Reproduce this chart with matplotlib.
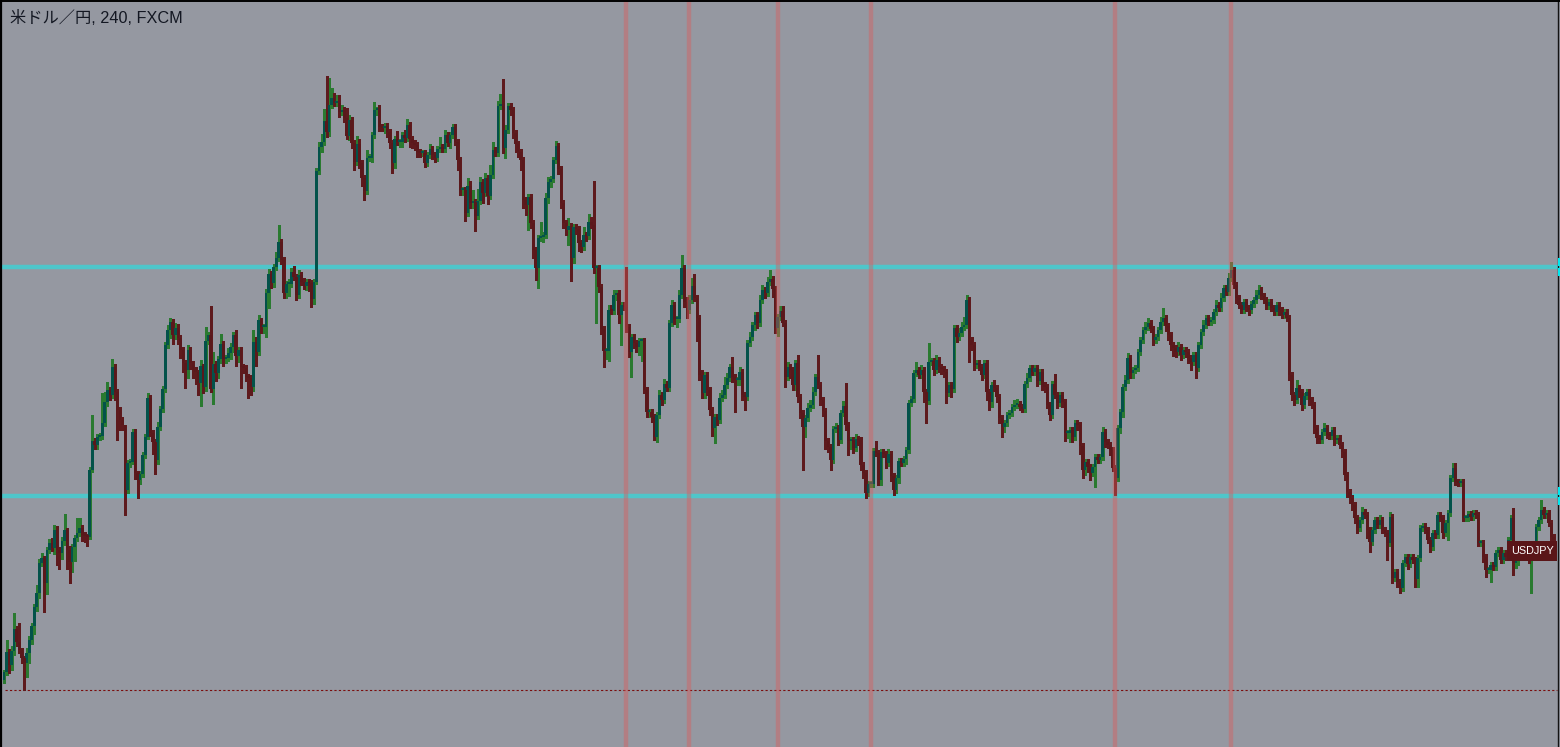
import matplotlib
matplotlib.use("Agg")
import matplotlib.pyplot as plt
from matplotlib.patches import Rectangle
from matplotlib.lines import Line2D
from matplotlib.transforms import blended_transform_factory
import numpy as np

# ---------------- data ----------------
title = "米ドル／円, 240, FXCM"
symbol = "USDJPY"
first_open = 111.20

closes = [
    111.28, 111.48, 111.35, 111.49, 111.71, 111.58, 111.50, 111.42, 111.37, 111.47,
    111.60, 111.74, 111.93, 112.07, 112.37, 112.42, 112.17, 112.50, 112.57, 112.52,
    112.70, 112.50, 112.47, 112.59, 112.70, 112.50, 112.38, 112.53, 112.62, 112.67,
    112.72, 112.65, 112.64, 112.63, 113.30, 113.59, 113.55, 113.63, 113.64, 113.77,
    113.98, 114.10, 114.05, 114.33, 114.08, 113.90, 113.80, 113.75, 113.10, 113.37,
    113.38, 113.68, 113.27, 113.20, 113.26, 113.45, 113.63, 114.02, 113.67, 113.58,
    113.40, 113.73, 113.91, 114.11, 114.55, 114.70, 114.78, 114.65, 114.72, 114.62,
    114.50, 114.37, 114.30, 114.50, 114.37,
    114.30, 114.28, 114.17, 114.34, 114.13, 114.59, 114.65, 114.11, 114.36, 114.27,
    114.41, 114.56, 114.41, 114.42, 114.47, 114.53, 114.65, 114.44, 114.50, 114.33,
    114.32, 114.23, 114.22, 114.13, 114.58, 114.48, 114.80, 114.73, 114.73, 115.07,
    115.26, 115.17, 115.33, 115.42, 115.58, 115.40, 115.07, 115.16, 115.16, 115.28,
    115.23, 115.05, 115.25, 115.18, 115.14, 115.18, 115.17, 115.01, 115.18, 116.29,
    116.53, 116.58, 116.79, 116.68, 116.95, 117.02, 116.97, 116.97, 116.88, 116.90,
    116.82, 116.64, 116.80, 116.57, 116.38, 116.56, 116.37, 116.22, 116.09, 116.42,
    116.42, 116.65, 116.90, 116.90, 116.73, 116.72, 116.74, 116.68,
    116.57, 116.37, 116.61, 116.58, 116.58, 116.65, 116.62, 116.75, 116.61, 116.57,
    116.55, 116.48, 116.47, 116.47, 116.37, 116.45, 116.51, 116.45, 116.42, 116.51,
    116.53, 116.51, 116.65, 116.57, 116.65, 116.73, 116.58, 116.40, 116.10, 116.10,
    115.87, 116.14, 115.97, 115.98, 115.84, 115.99, 116.18, 116.07, 116.22, 116.04,
    116.25, 116.50, 116.47, 116.94, 116.94, 116.52, 116.70, 116.94, 116.90, 116.67,
    116.56, 116.48, 116.40, 116.00, 115.95, 116.03, 115.77, 115.50, 115.32, 115.62,
    115.63, 115.65, 116.02, 116.18, 116.21, 116.40, 116.54, 116.31, 115.97, 115.77,
    115.70, 115.74, 115.42, 115.73, 115.71, 115.57,
    115.53, 115.65, 115.64, 115.78, 115.75, 115.32, 115.32, 115.13, 114.71, 114.49,
    114.49, 114.90, 114.89, 115.05, 115.07, 114.85, 114.95, 114.93, 114.73, 114.48,
    114.63, 114.57, 114.53, 114.59, 114.59, 114.10, 113.88, 113.88, 113.83, 113.63,
    113.85, 114.05, 114.00, 114.16, 114.12, 114.77, 114.95, 114.81, 114.81, 115.05,
    115.32, 114.98, 114.90, 115.00, 115.14, 115.02, 114.82, 114.25, 114.07, 114.25,
    114.10, 113.90, 113.72, 113.83, 113.80, 114.02, 114.05, 114.15, 114.22, 114.33,
    114.23, 114.20, 114.20, 114.28, 114.05, 114.03, 114.57, 114.63, 114.75, 114.85,
    114.77, 115.00, 115.10,
    115.07, 115.18, 115.21, 115.11, 114.72, 114.83, 114.89, 114.77, 114.23, 114.33,
    114.30, 114.15, 114.37, 114.03, 113.87, 113.73, 113.82, 113.92, 113.95, 114.08,
    114.23, 114.15, 114.00, 113.89, 113.59, 113.53, 113.40, 113.71, 113.72, 113.60,
    113.87, 113.94, 113.75, 113.59, 113.60, 113.52, 113.61, 113.60, 113.35, 113.27,
    113.07, 113.16, 113.16, 113.49, 113.47, 113.20, 113.48, 113.46, 113.37, 113.46,
    113.24, 113.10, 113.22, 113.39, 113.37, 113.41, 113.50, 113.97, 114.01, 114.27,
    114.30, 114.25, 114.30, 114.08, 113.99, 114.38, 114.39, 114.30, 114.40, 114.33,
    114.31, 114.28, 114.07, 114.15, 114.11, 114.72,
    114.63, 114.67, 114.73, 114.75, 115.00, 114.60, 114.55, 114.35, 114.37, 114.33,
    114.25, 114.37, 114.08, 113.98, 114.15, 114.12, 114.03, 113.82, 113.73, 113.77,
    113.85, 113.87, 113.93, 113.95, 113.96, 113.93, 113.91, 114.16, 114.22, 114.32,
    114.28, 114.32, 114.19, 114.28, 114.15, 114.13, 113.95, 113.85, 114.16, 114.05,
    113.97, 114.05, 113.98, 113.67, 113.67, 113.70, 113.63, 113.77, 113.75, 113.54,
    113.30, 113.38, 113.33, 113.27, 113.33, 113.43, 113.40, 113.43, 113.68, 113.58,
    113.55, 113.50, 113.32, 113.22, 113.72, 113.88, 114.13, 114.20, 114.42, 114.27,
    114.30, 114.32, 114.48, 114.60, 114.70, 114.73, 114.77, 114.71, 114.60, 114.63,
    114.70, 114.78, 114.82, 114.74, 114.65, 114.55, 114.52, 114.48, 114.53, 114.45,
    114.50, 114.48, 114.42, 114.38, 114.45, 114.32, 114.55, 114.68, 114.75, 114.82,
    114.78, 114.80, 114.88, 114.95, 114.92, 115.02, 115.12, 115.08, 115.22, 115.30,
    115.15, 115.02, 114.95, 114.90, 114.98, 114.92, 114.90, 114.96, 115.00, 115.05,
    115.10, 115.04, 115.00, 114.94, 114.98, 114.92, 114.88, 114.95, 114.90, 114.85,
    114.88, 114.82, 114.25, 114.05, 114.00, 114.12, 114.08, 113.95, 114.04, 114.08,
    114.00, 113.95, 113.72, 113.62, 113.60, 113.68, 113.72, 113.65, 113.64, 113.70,
    113.60, 113.62, 113.55, 113.48, 113.25, 113.08, 113.02, 112.95, 112.82, 112.72,
    112.80, 112.88, 112.85, 112.70, 112.58, 112.70, 112.80, 112.75, 112.80, 112.70,
    112.67, 112.57, 112.83, 112.22, 112.28, 112.18, 112.12, 112.37, 112.43, 112.36,
    112.43, 112.40, 112.21, 112.42, 112.72, 112.74, 112.70, 112.60, 112.53, 112.67,
    112.65, 112.85, 112.82, 112.67, 112.77, 112.87, 113.22, 113.32, 113.18, 113.17,
    113.18, 112.82, 112.82, 112.86, 112.83, 112.87, 112.85, 112.57, 112.57, 112.43,
    112.30, 112.30, 112.35, 112.33, 112.47, 112.50, 112.40, 112.47, 112.43, 112.60,
    112.82, 112.37, 112.40, 112.47, 112.45, 112.52, 112.48, 112.40, 112.44, 112.55,
    112.73, 112.80, 112.90, 112.85, 112.87, 112.77, 112.63, 112.60,
]

# wick lengths beyond the candle body, in pips
upper_wick_pips = [
    2, 12, 3, 5, 16, 3, 19, 2, 2, 5, 4, 3, 3, 8, 4, 5, 2, 3, 4, 5,
    5, 4, 3, 4, 16, 2, 4, 3, 3, 15, 10, 3, 3, 2, 3, 26, 3, 3, 3, 30,
    10, 8, 3, 8, 3, 3, 3, 3, 0, 3, 3, 3, 3, 2, 3, 3, 3, 5, 3, 3,
    3, 5, 3, 3, 3, 5, 4, 3, 5, 4, 3, 3, 3, 5, 3,
    2, 3, 2, 6, 2, 14, 3, 29, 12, 3, 3, 10, 3, 3, 5, 4, 3, 5, 3, 3,
    3, 3, 3, 3, 12, 5, 5, 2, 3, 4, 5, 3, 3, 6, 17, 3, 3, 3, 5, 4,
    6, 3, 5, 3, 4, 3, 3, 3, 3, 3, 5, 8, 12, 45, 27, 10, 5, 8, 8, 5,
    3, 10, 5, 3, 3, 8, 5, 3, 3, 8, 4, 3, 8, 3, 5, 3, 3, 3,
    3, 3, 3, 8, 3, 3, 5, 6, 3, 3, 3, 3, 3, 3, 3, 3, 5, 3, 3, 3,
    10, 3, 5, 3, 3, 3, 3, 3, 3, 3, 3, 8, 5, 12, 3, 12, 5, 3, 5, 3,
    10, 8, 3, 5, 12, 27, 5, 3, 3, 3, 3, 3, 3, 3, 3, 3, 3, 3, 3, 3,
    15, 3, 5, 5, 3, 3, 5, 3, 3, 3, 3, 8, 3, 3, 3, 3,
    3, 8, 3, 8, 5, 44, 3, 3, 3, 3, 3, 5, 5, 5, 3, 3, 3, 3, 40, 3,
    3, 3, 3, 3, 3, 3, 3, 3, 3, 3, 3, 5, 3, 5, 3, 3, 5, 3, 3, 5,
    13, 3, 5, 5, 8, 12, 3, 3, 5, 3, 3, 3, 3, 3, 3, 5, 5, 8, 5, 3,
    10, 3, 3, 5, 3, 3, 3, 5, 3, 3, 3, 5, 5,
    3, 5, 9, 3, 3, 3, 5, 5, 3, 5, 3, 3, 3, 8, 3, 3, 3, 5, 5, 5,
    3, 22, 3, 3, 3, 3, 3, 3, 5, 3, 3, 5, 23, 3, 3, 3, 5, 3, 3, 3,
    3, 3, 3, 3, 10, 3, 3, 3, 3, 5, 3, 3, 3, 3, 3, 3, 3, 3, 3, 3,
    8, 3, 5, 3, 3, 19, 3, 3, 5, 3, 3, 3, 3, 3, 3, 3,
    3, 5, 5, 8, 5, 3, 3, 3, 3, 3, 3, 3, 3, 3, 3, 5, 3, 3, 3, 3,
    3, 3, 3, 5, 5, 3, 3, 3, 5, 3, 3, 3, 3, 3, 3, 3, 3, 3, 3, 10,
    3, 3, 3, 3, 3, 3, 3, 3, 3, 3, 3, 3, 3, 3, 3, 3, 3, 3, 5, 3,
    3, 3, 3, 3, 3, 3, 3, 5, 5, 3, 3, 3, 3, 3, 3, 5, 5, 3, 3, 3,
    3, 5, 10, 3, 3, 3, 3, 3, 5, 3, 3, 3, 3, 3, 3, 3, 3, 3, 5, 3,
    3, 3, 3, 5, 3, 5, 3, 3, 5, 8, 3, 3, 3, 3, 3, 3, 3, 3, 3, 5,
    5, 3, 3, 3, 3, 3, 3, 3, 3, 3, 3, 3, 3, 3, 3, 8, 3, 3, 3, 3,
    3, 3, 3, 3, 3, 3, 5, 3, 3, 3, 3, 3, 3, 3, 3, 3, 3, 3, 3, 3,
    3, 5, 3, 3, 3, 3, 3, 3, 5, 3,
    3, 3, 5, 3, 3, 3, 3, 3, 3, 3, 3, 3, 3, 3, 3, 3, 3, 3, 3, 3,
    3, 3, 3, 3, 3, 3, 3, 5, 5, 3, 3, 3, 3, 3, 3, 3, 3, 3, 3, 3,
    3, 3, 3, 3, 3, 3, 3, 3, 3, 3, 3, 10, 3, 3, 3, 3, 3, 3, 3, 3,
    3, 3, 10, 3, 3, 3, 3, 3,
]
lower_wick_pips = [
    3, 3, 8, 5, 4, 4, 3, 5, 27, 14, 10, 4, 8, 4, 5, 3, 29, 11, 3, 3,
    6, 15, 16, 6, 4, 19, 21, 10, 14, 3, 3, 6, 6, 9, 2, 2, 4, 4, 3, 3,
    3, 4, 5, 3, 8, 30, 10, 5, 25, 3, 4, 2, 6, 18, 4, 3, 3, 2, 3, 12,
    14, 4, 3, 3, 3, 3, 8, 9, 4, 6, 8, 9, 18, 8, 6,
    8, 12, 12, 23, 6, 4, 3, 3, 15, 8, 5, 4, 7, 4, 3, 6, 5, 10, 6, 21,
    5, 4, 20, 8, 4, 14, 3, 6, 6, 10, 15, 5, 4, 3, 3, 4, 5, 5, 12, 3,
    3, 5, 3, 3, 3, 4, 8, 8, 5, 2, 3, 5, 3, 5, 4, 3, 3, 3, 5, 3,
    4, 3, 4, 5, 8, 3, 5, 8, 9, 3, 3, 4, 3, 5, 4, 3, 5, 5,
    5, 10, 5, 3, 5, 5, 4, 3, 8, 5, 5, 5, 4, 3, 4, 3, 3, 4, 4, 3,
    3, 3, 3, 3, 5, 3, 3, 10, 5, 5, 8, 3, 5, 5, 15, 3, 3, 10, 3, 8,
    3, 3, 3, 3, 3, 5, 10, 3, 5, 5, 8, 5, 10, 8, 10, 25, 5, 8, 12, 20,
    3, 5, 3, 5, 5, 3, 3, 5, 5, 5, 5, 15, 23, 5, 5, 8,
    5, 3, 5, 3, 3, 5, 55, 5, 5, 16, 8, 10, 3, 3, 5, 8, 30, 3, 5, 5,
    25, 5, 5, 8, 20, 3, 5, 5, 5, 3, 5, 3, 5, 3, 3, 3, 3, 5, 8, 3,
    3, 5, 8, 3, 3, 3, 23, 5, 5, 5, 5, 5, 8, 15, 5, 3, 3, 3, 3, 3,
    5, 32, 5, 5, 5, 13, 3, 3, 3, 5, 5, 3, 3,
    5, 3, 3, 8, 5, 8, 3, 3, 10, 3, 8, 5, 5, 5, 5, 43, 10, 3, 3, 3,
    3, 3, 5, 5, 8, 5, 10, 3, 3, 5, 3, 3, 5, 14, 8, 5, 3, 5, 5, 5,
    5, 3, 3, 3, 3, 5, 5, 3, 5, 3, 5, 5, 3, 5, 3, 3, 5, 3, 3, 3,
    3, 3, 3, 10, 22, 3, 3, 5, 3, 5, 5, 5, 10, 3, 8, 3,
    5, 3, 3, 3, 3, 22, 5, 5, 3, 3, 5, 3, 8, 8, 5, 3, 5, 5, 10, 5,
    3, 3, 3, 3, 3, 3, 3, 3, 3, 3, 3, 3, 5, 3, 5, 5, 3, 5, 3, 3,
    5, 3, 5, 8, 5, 9, 5, 3, 5, 8, 8, 5, 5, 7, 3, 20, 3, 3, 3, 5,
    3, 5, 3, 17, 3, 5, 5, 3, 3, 5, 5, 3, 3, 3, 3, 3, 3, 3, 5, 3,
    3, 3, 3, 5, 5, 5, 8, 5, 3, 5, 3, 5, 5, 8, 3, 10, 3, 3, 3, 3,
    3, 3, 3, 3, 3, 3, 3, 3, 3, 3, 3, 5, 3, 3, 3, 3, 5, 3, 3, 3,
    3, 3, 3, 3, 3, 3, 3, 3, 5, 3, 3, 3, 5, 5, 5, 3, 5, 5, 3, 3,
    5, 3, 5, 5, 3, 3, 3, 3, 3, 3, 5, 3, 3, 5, 5, 5, 5, 5, 5, 5,
    3, 3, 3, 8, 10, 3, 3, 3, 3, 3,
    3, 17, 3, 5, 3, 5, 5, 3, 3, 5, 3, 3, 8, 8, 3, 3, 3, 3, 5, 3,
    3, 3, 3, 5, 3, 17, 3, 3, 3, 3, 3, 3, 3, 3, 3, 3, 3, 3, 3, 5,
    7, 3, 12, 3, 3, 3, 3, 3, 3, 3, 3, 12, 5, 5, 3, 3, 3, 3, 33, 3,
    3, 3, 3, 3, 3, 3, 5, 3,
]

key_levels = [115.33, 113.04]      # cyan horizontal lines
dotted_level = 111.10              # dotted red line
event_bars = [247, 272, 307, 344, 441, 487]   # bars marked by vertical lines
label_level = 112.49               # symbol price label

# ---------------- styling ----------------
BG = "#9598a1"
UP_BODY = "#03524a"
DN_BODY = "#5a181b"
UP_WICK = "#2a7a30"
DN_WICK = "#5e1a1d"
CYAN = "#4ec6ca"

n = len(closes)
assert len(upper_wick_pips) == n and len(lower_wick_pips) == n, (n, len(upper_wick_pips), len(lower_wick_pips))

c = np.array(closes)
o = np.concatenate([[first_open], c[:-1]])
x = np.arange(n)
up = c >= o
body_lo = np.minimum(o, c)
body_hi = np.maximum(o, c)
body_h = np.maximum(body_hi - body_lo, 0.015)
hi = body_hi + np.array(upper_wick_pips) / 100.0
lo = body_lo - np.array(lower_wick_pips) / 100.0

W, H = 1560, 747
fig = plt.figure(figsize=(W / 100, H / 100), dpi=100, facecolor=BG)
ax = fig.add_axes([0, 0, 1, 1])
ax.set_facecolor(BG)
ax.set_xlim(-1.6, n + 1.5)
ax.set_ylim(118.0 - H / 100.0, 118.0)
for s in ax.spines.values():
    s.set_visible(False)
ax.set_xticks([])
ax.set_yticks([])

# key levels (behind candles)
for lvl in key_levels:
    ax.axhline(lvl, color=CYAN, lw=3.2, zorder=1)
ax.axhline(dotted_level, xmin=0.003, xmax=0.998, color="#7a0c0c", lw=0.8,
           ls=(0, (2, 2)), zorder=1)

# wicks
ax.vlines(x[up], lo[up], hi[up], color=UP_WICK, lw=0.8, antialiased=False, zorder=3)
ax.vlines(x[~up], lo[~up], hi[~up], color=DN_WICK, lw=0.8, antialiased=False, zorder=3)
# bodies
ax.bar(x[up], body_h[up], bottom=body_lo[up], width=1.08, color=UP_BODY,
       linewidth=0, antialiased=False, zorder=4)
ax.bar(x[~up], body_h[~up], bottom=body_lo[~up], width=1.08, color=DN_BODY,
       linewidth=0, antialiased=False, zorder=4)

# event vertical lines
for b in event_bars:
    ax.axvline(b, color="#dc5a5a", alpha=0.42, lw=3.2, zorder=5)

# right price-scale edge
bt = blended_transform_factory(ax.transAxes, ax.transData)
ax.add_line(Line2D([1557.5 / W, 1557.5 / W], [0, 1], transform=ax.transAxes,
                   color="#131313", lw=1.0, zorder=6))
for lvl in key_levels:
    ax.add_patch(Rectangle((1558 / W, lvl + 0.01), 2 / W, 0.08, transform=bt,
                           color="#00e8f0", zorder=7, lw=0))
    ax.add_patch(Rectangle((1558 / W, lvl - 0.09), 2 / W, 0.08, transform=bt,
                           color="#00e8f0", zorder=7, lw=0))

# symbol label
ax.add_patch(Rectangle((1507 / W, label_level - 0.10), 50 / W, 0.20, transform=bt,
                       color="#5a1518", zorder=8, lw=0))
ax.text(1532 / W, label_level, symbol, transform=bt, ha="center", va="center",
        color="white", fontsize=7.8, family=["Liberation Sans", "DejaVu Sans"], zorder=9)

# borders
fig.add_artist(Line2D([0.0007, 0.0007], [0, 1], transform=fig.transFigure, color="black", lw=1.6))
fig.add_artist(Line2D([0, 1], [0.9993, 0.9993], transform=fig.transFigure, color="black", lw=1.4))

# title
fig.text(10 / W, 1 - 18 / H, title, ha="left", va="center", fontsize=11.7,
         color="#131722", family=["Liberation Sans", "Noto Sans CJK JP", "DejaVu Sans"])

fig.savefig("out.png", dpi=100, facecolor=BG)
